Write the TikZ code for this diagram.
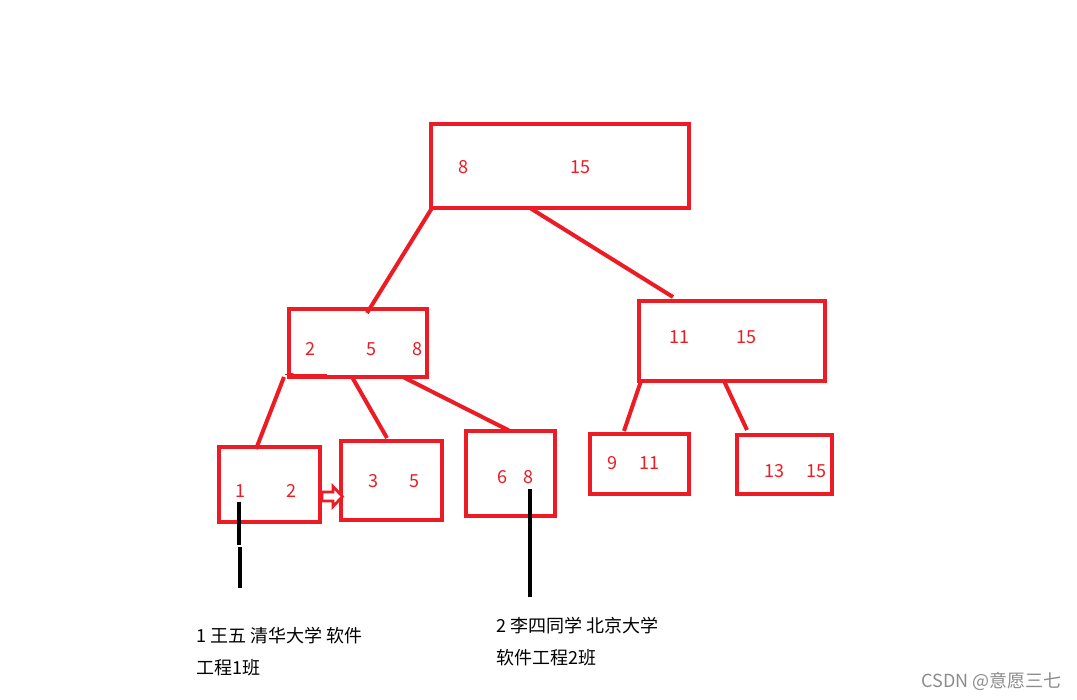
\documentclass[tikz,border=0pt]{standalone}
\usepackage{fontspec}
\setmainfont{Noto Sans CJK SC}
\definecolor{pred}{HTML}{ED1C24}
\begin{document}
\begin{tikzpicture}[x=1pt,y=-1pt,
  box/.style={draw=pred,line width=4pt,outer sep=0pt,inner sep=0pt},
  lbl/.style={text=pred,font=\fontsize{18}{18}\selectfont,inner sep=0pt},
  note/.style={text=black,font=\fontsize{18}{18}\selectfont,inner sep=0pt,anchor=west},
  edge/.style={draw=pred,line width=4pt},
  blk/.style={draw=black,line width=4.5pt}]
\fill[white] (0,0) rectangle (1077,700);
\path[use as bounding box] (0,0) rectangle (1077,700);
% boxes
\node[box,minimum width=258pt,minimum height=84pt] (top) at (560,166) {};
\node[box,minimum width=138pt,minimum height=68pt] (ml) at (358,343) {};
\node[box,minimum width=186pt,minimum height=80pt] (mr) at (732,341) {};
\node[box,minimum width=101pt,minimum height=75pt] (b12) at (269.5,484.5) {};
\node[box,minimum width=101pt,minimum height=79pt] (b35) at (391.5,480.5) {};
\node[box,minimum width=89pt,minimum height=85pt] (b68) at (510.5,473.5) {};
\node[box,minimum width=99pt,minimum height=60pt] (b911) at (639.5,464) {};
\node[box,minimum width=95pt,minimum height=59pt] (b1315) at (784.5,464.5) {};
% labels
\node[lbl] (t8) at (463,167) {8};
\node[lbl] (t15) at (580,167) {15};
\node[lbl] at (310,349) {2};
\node[lbl] at (371,349) {5};
\node[lbl] at (417,349) {8};
\node[lbl] at (679,337) {11};
\node[lbl] at (746,337) {15};
\node[lbl] (n1) at (240,491) {1};
\node[lbl] at (291,491) {2};
\node[lbl] at (373,481) {3};
\node[lbl] at (414,481) {5};
\node[lbl] at (502,477) {6};
\node[lbl] (n8) at (528,477) {8};
\node[lbl] at (612,463) {9};
\node[lbl] at (649,463) {11};
\node[lbl] at (774,471) {13};
\node[lbl] at (816,471) {15};
% connectors
\draw[edge] ([xshift=1pt]top.south west) -- ([xshift=78pt,yshift=-4pt]ml.north west);
\draw[edge] ([xshift=99pt]top.south west) -- ([xshift=34pt,yshift=4pt]mr.north west);
\draw[edge] ([xshift=-5pt]ml.south west) -- ([xshift=37pt,yshift=-2pt]b12.north west);
\draw[edge] ([xshift=63pt]ml.south west) -- ([xshift=46pt,yshift=3pt]b35.north west);
\draw[edge] ([xshift=114pt]ml.south west) -- ([xshift=44pt]b68.north west);
\draw[edge] ([xshift=2pt]mr.south west) -- ([xshift=34pt,yshift=3pt]b911.north west);
\draw[edge] ([xshift=85pt]mr.south west) -- ([xshift=10pt,yshift=5pt]b1315.north west);
% thin stray line with dot
\draw[pred,line width=1pt] (285,375) -- (327,375);
\fill[pred] (292,375) circle (2.2pt);
% hollow arrow between b12 and b35
\draw[pred,line width=2.8pt,line join=miter,fill=white]
  (322,492) -- (333,492) -- (333,486.5) -- (342.5,496.5) -- (333,506.5) -- (333,501) -- (322,501) -- cycle;
% black marker lines
\coordinate (c1a) at (239,545);
\coordinate (c1b) at (240,547);
\coordinate (c1c) at (240,588);
\coordinate (c2) at (530,597);
\draw[blk] ([xshift=-1pt,yshift=-4pt]n1.south) -- (c1a);
\draw[blk] (c1b) -- (c1c);
\draw[blk] ([xshift=2pt,yshift=-5pt]n8.south) -- (c2);
% notes
\node[note] at (196,636) {1 王五 清华大学 软件};
\node[note] at (196,668) {工程1班};
\node[note] at (496,626) {2 李四同学 北京大学};
\node[note] at (496,658) {软件工程2班};
% watermark
\node[anchor=east,text=black!45,font=\fontsize{18}{18}\selectfont,inner sep=0pt] at (1062,681) {CSDN @意愿三七};
\end{tikzpicture}
\end{document}
